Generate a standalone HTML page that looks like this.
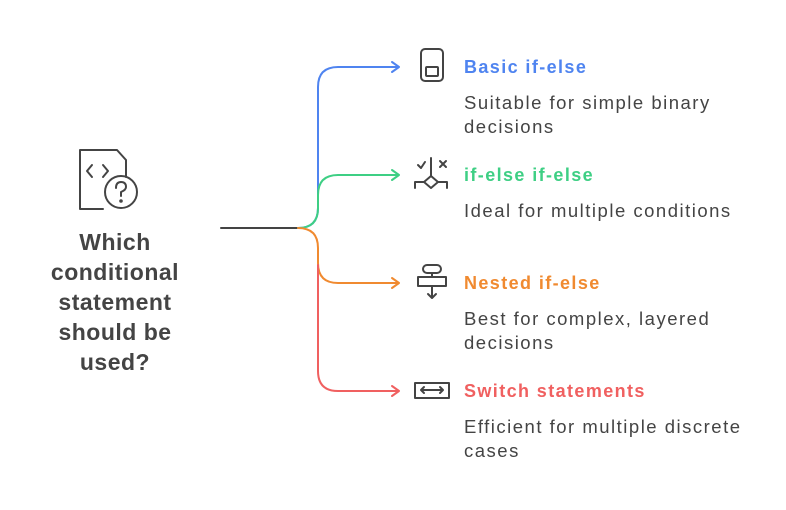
<!DOCTYPE html>
<html><head><style>
body{margin:0;width:786px;height:510px;background:#fff;position:relative;font-family:"Liberation Sans",sans-serif;overflow:hidden}
.t{position:absolute;left:464px;font-weight:bold;font-size:18px;letter-spacing:1.4px;line-height:20px}
.d{position:absolute;left:464px;font-size:18.5px;letter-spacing:1.5px;line-height:24px;color:#444;width:330px}
.q{position:absolute;left:10px;width:210px;top:227px;text-align:center;font-weight:bold;font-size:23px;letter-spacing:0.5px;line-height:30px;color:#444}
</style></head><body>
<svg width="786" height="510" style="position:absolute;left:0;top:0" fill="none" stroke-linecap="round" stroke-linejoin="round">
<path d="M221 228H298" stroke="#444" stroke-width="2"/>
<path d="M298 228Q318 228 318 208V87Q318 67 338 67H398" stroke="#4f84f0" stroke-width="2"/>
<path d="M392 62L399 67L392 72" stroke="#4f84f0" stroke-width="2"/>
<path d="M298 228Q318 228 318 208V195Q318 175 338 175H398" stroke="#3ecf84" stroke-width="2"/>
<path d="M392 170L399 175L392 180" stroke="#3ecf84" stroke-width="2"/>
<path d="M298 228Q318 228 318 248V263Q318 283 338 283H398" stroke="#f08a30" stroke-width="2"/>
<path d="M392 278L399 283L392 288" stroke="#f08a30" stroke-width="2"/>
<path d="M318 265V371Q318 391 338 391H398" stroke="#f06060" stroke-width="2"/>
<path d="M392 386L399 391L392 396" stroke="#f06060" stroke-width="2"/>
<g stroke="#444" stroke-width="2">
<path d="M103 209H80V150H117L126 160V177"/>
<path d="M92 165L87 171L92 177M103 165L108 171L103 177"/>
<circle cx="121" cy="192" r="16"/>
<path d="M116 188Q116 182 121 182Q126 182 126 187Q126 190 121 192V196"/>
<circle cx="121" cy="201" r="0.8" fill="#444"/>
<rect x="421" y="49" width="22" height="32" rx="4"/>
<rect x="426" y="67" width="12" height="9" rx="1"/>
<path d="M415 188V182H424L431 176L438 182H447V188M424 182L431 188L438 182M431 176V158"/>
<path d="M418 165L421 168L425 162M440 161L446 167M446 161L440 167"/>
<rect x="423" y="265" width="18" height="8" rx="4"/>
<rect x="418" y="277" width="28" height="9"/>
<path d="M432 273V277M432 286V298M428 294L432 298L436 294"/>
<rect x="415" y="383" width="34" height="15"/>
<path d="M421 390H443M424 387L421 390L424 393M440 387L443 390L440 393"/>
</g>
</svg>
<div class="q">Which<br>conditional<br>statement<br>should be<br>used?</div>
<div class="t" style="top:57px;color:#4f84f0">Basic if-else</div>
<div class="d" style="top:91px">Suitable for simple binary<br>decisions</div>
<div class="t" style="top:165px;color:#3ecf84">if-else if-else</div>
<div class="d" style="top:199px">Ideal for multiple conditions</div>
<div class="t" style="top:273px;color:#f08a30">Nested if-else</div>
<div class="d" style="top:307px">Best for complex, layered<br>decisions</div>
<div class="t" style="top:381px;color:#f06060">Switch statements</div>
<div class="d" style="top:415px">Efficient for multiple discrete<br>cases</div>
</body></html>
